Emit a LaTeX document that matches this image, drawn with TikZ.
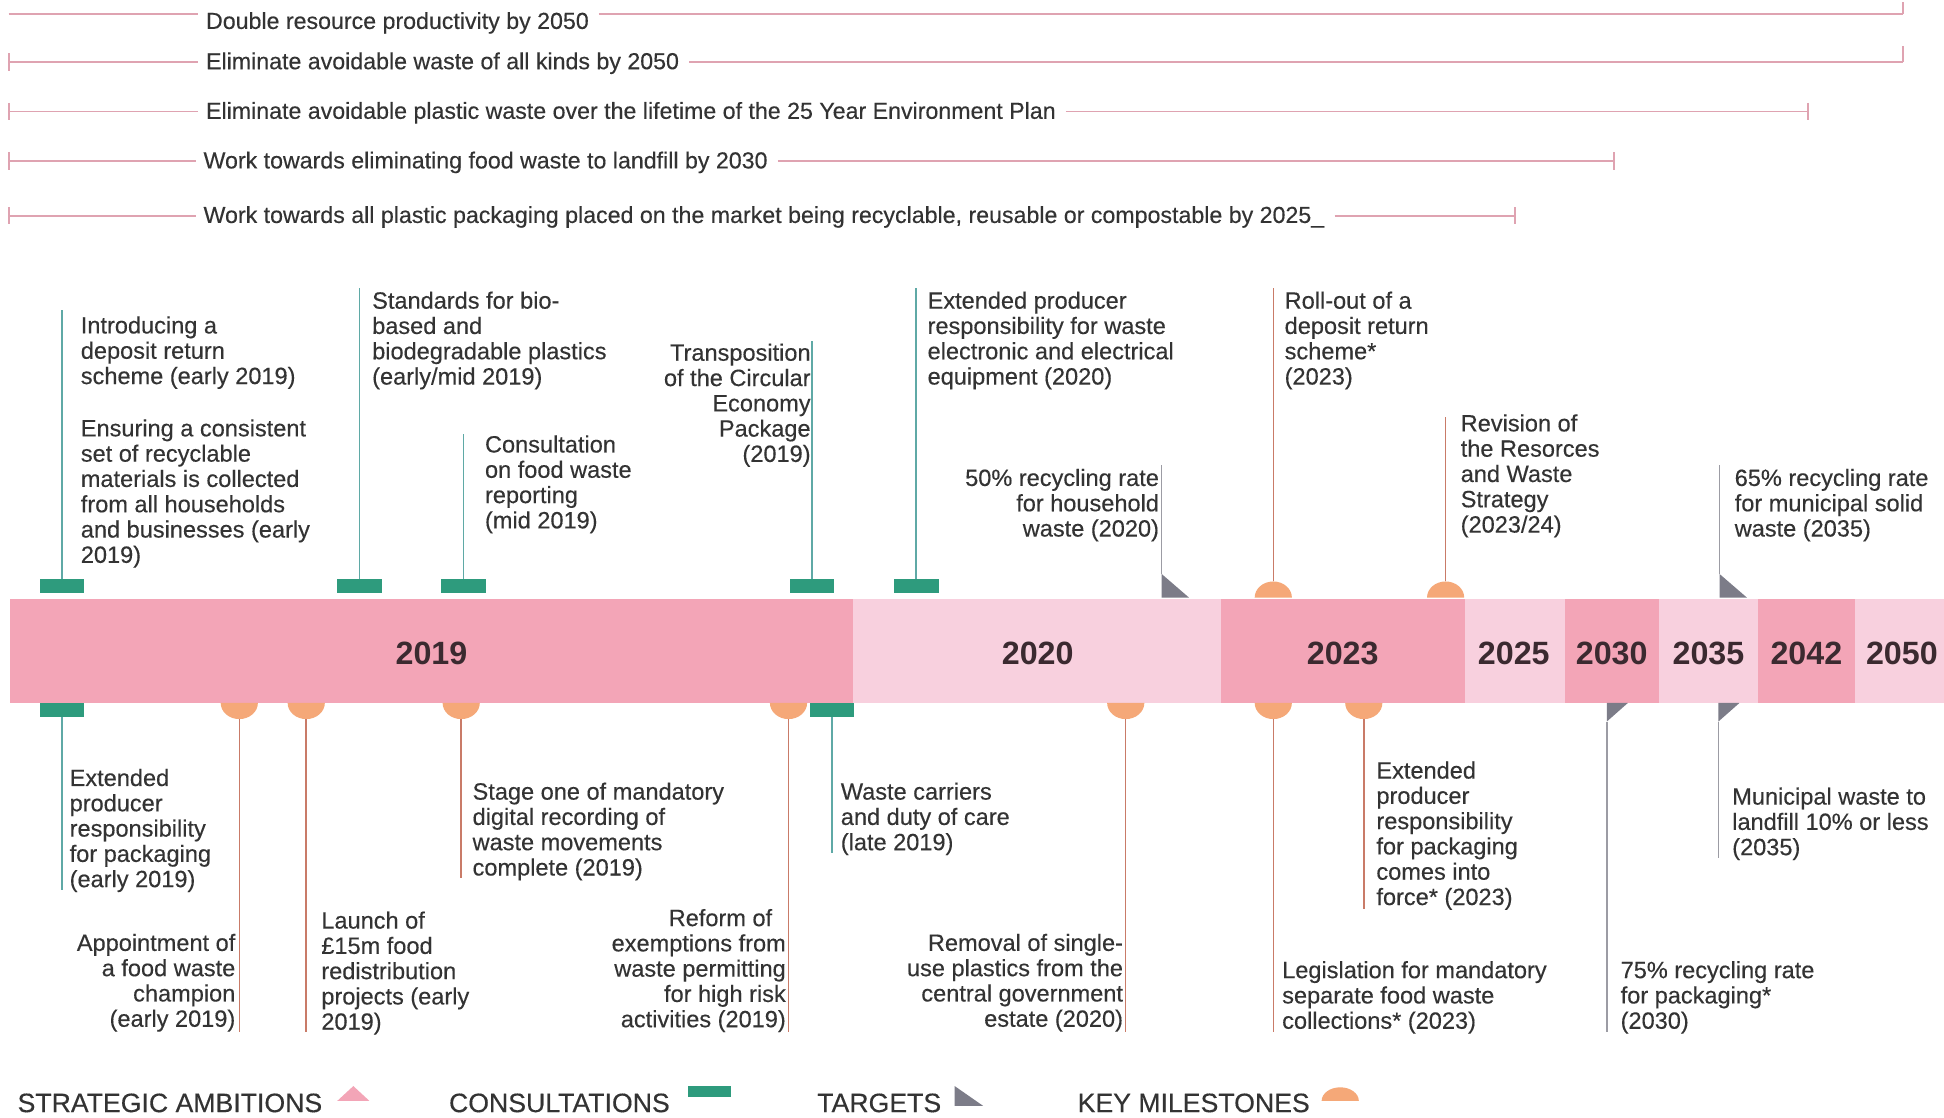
\documentclass[tikz,border=0pt]{standalone}
\usepackage{fontspec}
\setmainfont{Liberation Sans}
\newfontfamily\bodyf{Liberation Sans}[FakeBold=0.3]
\definecolor{pkm}{HTML}{F3A5B7}
\definecolor{pkl}{HTML}{F8D0DE}
\definecolor{grn}{HTML}{2E9B7D}
\definecolor{grnl}{HTML}{5FA9A6}
\definecolor{orng}{HTML}{F5A878}
\definecolor{orl}{HTML}{C97B68}
\definecolor{tgc}{HTML}{7C7C88}
\definecolor{tgl}{HTML}{9C9CA4}
\definecolor{ambc}{HTML}{DFA3B1}
\definecolor{txt}{HTML}{333333}
\definecolor{yrtxt}{HTML}{3B2A30}
\begin{document}
\begin{tikzpicture}[x=1pt,y=-1pt,
  tx/.style={font=\bodyf\fontsize{19}{20.4}\selectfont, text=txt, inner sep=0pt, align=left, anchor=north west},
  txr/.style={tx, align=right, anchor=north east},
  yr/.style={font=\fontsize{26}{30}\selectfont\bfseries, text=yrtxt, inner sep=0pt},
  amb/.style={font=\bodyf\fontsize{18.7}{21}\selectfont, text=txt, inner sep=0pt, anchor=west},
  ambl/.style={draw=ambc, line width=1.4pt},
  cons/.style={rectangle, fill=grn, minimum width=36pt, minimum height=11pt, inner sep=0pt},
  lg/.style={draw=grnl, line width=1.2pt},
  lo/.style={draw=orl, line width=1.2pt},
  lt/.style={draw=tgl, line width=1.2pt},
  leg/.style={font=\bodyf\fontsize{21.5}{24}\selectfont, text=txt, inner sep=0pt, anchor=base west},
  domeup/.pic={\fill[orng] (-15,0) arc[start angle=180,end angle=0,x radius=15pt,y radius=13pt] -- cycle;},
  domedn/.pic={\fill[orng] (-15,0) arc[start angle=180,end angle=360,x radius=15pt,y radius=13pt] -- cycle;},
  tgup/.pic={\fill[tgc] (0,0) -- (0,-19) -- (22,0) -- cycle;},
  tgdn/.pic={\fill[tgc] (0,0) -- (17,0) -- (0,15) -- cycle;}
]
\useasboundingbox (0,0) rectangle (1568,901);
\fill[white] (0,0) rectangle (1568,901);

% ---------- strategic ambitions ----------
\node[amb] (a1) at (166,18.5) {Double resource productivity by 2050};
\node[amb] (a2) at (166,51) {Eliminate avoidable waste of all kinds by 2050};
\node[amb] (a3) at (166,91) {Eliminate avoidable plastic waste over the lifetime of the 25 Year Environment Plan};
\node[amb] (a4) at (164,131) {Work towards eliminating food waste to landfill by 2030};
\node[amb] (a5) at (164,175) {Work towards all plastic packaging placed on the market being recyclable, reusable or compostable by 2025\_};
\coordinate (a1l) at (7,11);   \coordinate (a1r) at (1535,11);
\coordinate (a2l) at (7,50);   \coordinate (a2r) at (1535,50);
\coordinate (a3l) at (7,90);   \coordinate (a3r) at (1458,90);
\coordinate (a4l) at (7,130);  \coordinate (a4r) at (1302,130);
\coordinate (a5l) at (7,174);  \coordinate (a5r) at (1222,174);
\foreach \i in {1,...,5}{
  \draw[ambl, shorten >=6pt] (a\i l) -- (a\i l -| a\i.west);
  \draw[ambl, shorten <=8pt] (a\i r -| a\i.east) -- (a\i r);
}
\draw[ambl] (a1r) -- ++(0,-9);
\draw[ambl] (a2r) -- ++(0,-13);
\foreach \i in {2,...,5}{\draw[ambl] (a\i l) ++(0,-7) -- ++(0,14);}
\foreach \i in {3,4,5}{\draw[ambl] (a\i r) ++(0,-7) -- ++(0,14);}

% ---------- timeline bar ----------
\fill[pkm] (8,483) rectangle (688,567);
\fill[pkl] (688,483) rectangle (985,567);
\fill[pkm] (985,483) rectangle (1182,567);
\fill[pkl] (1182,483) rectangle (1262,567);
\fill[pkm] (1262,483) rectangle (1338,567);
\fill[pkl] (1338,483) rectangle (1418,567);
\fill[pkm] (1418,483) rectangle (1496,567);
\fill[pkl] (1496,483) rectangle (1568,567);
\node[yr] (y2019) at (348,527) {2019};
\node[yr] (y2020) at (837,527) {2020};
\node[yr] (y2023) at (1083,527) {2023};
\node[yr] (y2025) at (1221,527) {2025};
\node[yr] (y2030) at (1300,527) {2030};
\node[yr] (y2035) at (1378,527) {2035};
\node[yr] (y2042) at (1457,527) {2042};
\node[yr] (y2050) at (1534,527) {2050};

% ---------- consultations ----------
\node[cons] (ca1) at (50,472.5) {};
\node[cons] (ca2) at (290,472.5) {};
\node[cons] (ca3) at (374,472.5) {};
\node[cons] (ca4) at (655,472.5) {};
\node[cons] (ca5) at (739,472.5) {};
\node[cons] (cb1) at (50,572.5) {};
\node[cons] (cb2) at (671,572.5) {};
\coordinate (ca1e) at (50,250);
\coordinate (ca2e) at (290,232);
\coordinate (ca3e) at (374,350);
\coordinate (ca4e) at (655,275);
\coordinate (ca5e) at (739,232);
\coordinate (cb1e) at (50,718);
\coordinate (cb2e) at (671,688);
\foreach \n in {ca1,ca2,ca3,ca4,ca5,cb1,cb2}{\draw[lg] (\n) -- (\n e);}

% ---------- key milestones ----------
\foreach \n/\x in {ma1/1027, ma2/1166}{
  \pic at (\x,482) {domeup};
  \coordinate (\n) at (\x,469);
}
\foreach \n/\x in {mb1/193, mb2/247, mb3/372, mb4/636, mb5/908, mb6/1027, mb7/1100}{
  \pic at (\x,567) {domedn};
  \coordinate (\n) at (\x,580);
}
\coordinate (ma1e) at (1027,232);
\coordinate (ma2e) at (1166,336);
\coordinate (mb1e) at (193,832);
\coordinate (mb2e) at (247,832);
\coordinate (mb3e) at (372,708);
\coordinate (mb4e) at (636,832);
\coordinate (mb5e) at (908,832);
\coordinate (mb6e) at (1027,832);
\coordinate (mb7e) at (1100,733);
\foreach \n in {ma1,ma2,mb1,mb2,mb3,mb4,mb5,mb6,mb7}{\draw[lo] (\n) -- (\n e);}

% ---------- targets ----------
\pic at (937,482) {tgup};  \coordinate (ta1) at (937,463);
\pic at (1387,482) {tgup}; \coordinate (ta2) at (1387,463);
\pic at (1296,567) {tgdn}; \coordinate (tb1) at (1296,582);
\pic at (1386,567) {tgdn}; \coordinate (tb2) at (1386,582);
\coordinate (ta1e) at (937,375);
\coordinate (ta2e) at (1387,375);
\coordinate (tb1e) at (1296,832);
\coordinate (tb2e) at (1386,692);
\foreach \n in {ta1,ta2,tb1,tb2}{\draw[lt] (\n) -- (\n e);}

% ---------- labels above ----------
\node[tx] (tA1) at (65,255) {Introducing a\\deposit return\\scheme (early 2019)};
\node[tx] (tA2) at (65,338) {Ensuring a consistent\\set of recyclable\\materials is collected\\from all households\\and businesses (early\\2019)};
\node[tx] (tA3) at (300,235) {Standards for bio-\\based and\\biodegradable plastics\\(early/mid 2019)};
\node[tx] (tA4) at (391,351) {Consultation\\on food waste\\reporting\\(mid 2019)};
\node[txr] (tA5) at (654,277) {Transposition\\of the Circular\\Economy\\Package\\(2019)};
\node[tx] (tA6) at (748,235) {Extended producer\\responsibility for waste\\electronic and electrical\\equipment (2020)};
\node[txr] (tA7) at (935,378) {50\% recycling rate\\for household\\waste (2020)};
\node[tx] (tA8) at (1036,235) {Roll-out of a\\deposit return\\scheme*\\(2023)};
\node[tx] (tA9) at (1178,334) {Revision of\\the Resorces\\and Waste\\Strategy\\(2023/24)};
\node[tx] (tA10) at (1399,378) {65\% recycling rate\\for municipal solid\\waste (2035)};

% ---------- labels below ----------
\node[tx] (tB1) at (56,620) {Extended\\producer\\responsibility\\for packaging\\(early 2019)};
\node[txr] (tB2) at (190,753) {Appointment of\\a food waste\\champion\\(early 2019)};
\node[tx] (tB3) at (259,735) {Launch of\\£15m food\\redistribution\\projects (early\\2019)};
\node[tx] (tB4) at (381,631) {Stage one of mandatory\\digital recording of\\waste movements\\complete (2019)};
\node[txr] (tB5) at (634,733) {Reform of\hspace*{11pt}\\exemptions from\\waste permitting\\for high risk\\activities (2019)};
\node[tx] (tB6) at (678,631) {Waste carriers\\and duty of care\\(late 2019)};
\node[txr] (tB7) at (906,753) {Removal of single-\\use plastics from the\\central government\\estate (2020)};
\node[tx] (tB8) at (1034,775) {Legislation for mandatory\\separate food waste\\collections* (2023)};
\node[tx] (tB9) at (1110,614) {Extended\\producer\\responsibility\\for packaging\\comes into\\force* (2023)};
\node[tx] (tB10) at (1307,775) {75\% recycling rate\\for packaging*\\(2030)};
\node[tx] (tB11) at (1397,635) {Municipal waste to\\landfill 10\% or less\\(2035)};

% ---------- legend ----------
\node[leg] (l1) at (14,897) {STRATEGIC AMBITIONS};
\fill[pkm] (272,888) -- (285,876) -- (298,888) -- cycle;
\node[leg] (l2) at (362,897) {CONSULTATIONS};
\fill[grn] (555,876) rectangle (590,885);
\node[leg] (l3) at (659,897) {TARGETS};
\fill[tgc] (770,876) -- (770,892) -- (793,892) -- cycle;
\node[leg] (l4) at (869,897) {KEY MILESTONES};
\fill[orng] (1066,888) arc[start angle=180,end angle=0,x radius=15pt,y radius=11pt] -- cycle;
\end{tikzpicture}
\end{document}
